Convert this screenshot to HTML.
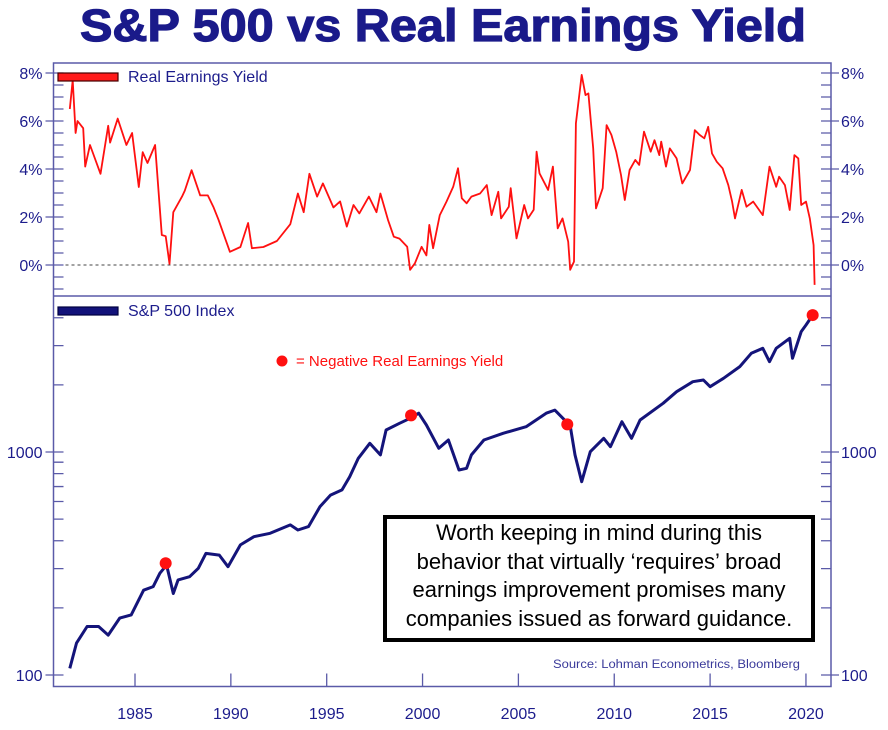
<!DOCTYPE html>
<html><head><meta charset="utf-8">
<style>
html,body{margin:0;padding:0;background:#fff;}
body{width:888px;height:730px;overflow:hidden;position:relative;font-family:"Liberation Sans",sans-serif;}
.box{position:absolute;left:383px;top:515px;width:424px;height:119px;border:4px solid #000;background:#fff;
font-size:22px;line-height:28.5px;text-align:center;color:#000;padding-top:0;}
.box div{white-space:nowrap;}
</style></head>
<body>
<svg id="chart" width="888" height="730" style="position:absolute;left:0;top:0" xmlns="http://www.w3.org/2000/svg">
  <text x="443" y="41" text-anchor="middle" font-family="Liberation Sans" font-weight="bold" font-size="45" fill="#1a1a8a" stroke="#1a1a8a" stroke-width="1.2" textLength="726" lengthAdjust="spacingAndGlyphs">S&amp;P 500 vs Real Earnings Yield</text>
  <g id="frame"></g>
  <g id="ticks"></g>
  <g id="series"></g>
  <g id="legend">
    <rect x="58" y="73" width="60" height="8" fill="#ff1a1a" stroke="#400" stroke-width="1.2"/>
    <text x="128" y="82" font-size="16" fill="#1c1c8c">Real Earnings Yield</text>
    <rect x="58" y="307" width="60" height="8" fill="#12127a" stroke="#000040" stroke-width="1.2"/>
    <text x="128" y="316" font-size="16" fill="#1c1c8c">S&amp;P 500 Index</text>
    <circle cx="282" cy="361" r="5.5" fill="#ff1010"/>
    <text x="296" y="366" font-size="15" fill="#ff1010">= Negative Real Earnings Yield</text>
    <text x="553" y="668" font-size="11.5" fill="#3a3a9a" textLength="247" lengthAdjust="spacingAndGlyphs">Source: Lohman Econometrics, Bloomberg</text>
  </g>
</svg>
<div class="box">
  <div>Worth keeping in mind during this</div>
  <div>behavior that virtually ‘requires’ broad</div>
  <div>earnings improvement promises many</div>
  <div>companies issued as forward guidance.</div>
</div>
<script>
// ---- data ----
const yieldYears = [1981.6,1981.75,1981.9,1982.0,1982.3,1982.4,1982.65,1983.2,1983.6,1983.7,1984.1,1984.55,1984.85,1985.2,1985.4,1985.65,1986.05,1986.4,1986.6,1986.8,1987.0,1987.45,1987.6,1987.95,1988.4,1988.8,1989.1,1989.35,1989.95,1990.5,1990.9,1991.1,1991.7,1992.4,1993.1,1993.5,1993.8,1994.1,1994.5,1994.8,1995.35,1995.7,1996.05,1996.4,1996.7,1997.2,1997.6,1997.8,1998.2,1998.5,1998.8,1999.2,1999.35,1999.6,1999.95,2000.2,2000.35,2000.55,2000.9,2001.25,2001.6,2001.85,2002.05,2002.3,2002.55,2003.0,2003.35,2003.6,2003.95,2004.1,2004.5,2004.6,2004.9,2005.3,2005.5,2005.8,2005.95,2006.1,2006.55,2006.8,2007.05,2007.3,2007.6,2007.7,2007.9,2008.0,2008.3,2008.5,2008.65,2008.9,2009.05,2009.4,2009.6,2009.85,2010.1,2010.35,2010.55,2010.8,2011.1,2011.3,2011.55,2011.9,2012.1,2012.35,2012.45,2012.7,2012.9,2013.25,2013.55,2013.95,2014.2,2014.45,2014.7,2014.9,2015.1,2015.35,2015.65,2015.95,2016.15,2016.3,2016.65,2016.9,2017.25,2017.75,2018.1,2018.45,2018.6,2018.9,2019.15,2019.4,2019.6,2019.75,2020.0,2020.2,2020.4,2020.45];
const yieldValues = [6.5,7.7,5.5,6.0,5.7,4.1,5.0,3.8,5.8,5.1,6.1,5.0,5.5,3.25,4.7,4.25,5.0,1.25,1.2,0.05,2.2,2.85,3.1,3.95,2.9,2.9,2.4,1.9,0.55,0.75,1.75,0.7,0.75,1.0,1.7,2.98,2.2,3.8,2.85,3.4,2.4,2.65,1.6,2.5,2.15,2.85,2.2,2.98,1.88,1.18,1.1,0.76,-0.2,0.07,0.76,0.4,1.67,0.7,2.08,2.64,3.26,4.03,2.78,2.57,2.85,2.98,3.33,2.08,3.05,1.94,2.43,3.2,1.11,2.5,1.94,2.3,4.72,3.82,3.13,4.1,1.53,1.94,0.97,-0.2,0.14,5.9,7.92,7.08,7.15,4.86,2.36,3.2,5.83,5.42,4.72,3.75,2.71,3.96,4.38,4.17,5.56,4.72,5.2,4.58,5.14,4.1,4.86,4.44,3.4,3.96,5.62,5.42,5.28,5.76,4.65,4.3,4.03,3.33,2.64,1.94,3.13,2.43,2.64,2.08,4.1,3.26,3.68,3.33,2.29,4.58,4.44,2.5,2.64,1.94,0.83,-0.83];
const spYears = [1981.6,1981.95,1982.5,1983.1,1983.6,1984.2,1984.8,1985.45,1985.95,1986.3,1986.65,1987.0,1987.25,1987.85,1988.3,1988.7,1989.4,1989.85,1990.5,1991.2,1992.05,1993.1,1993.5,1994.05,1994.65,1995.2,1995.8,1996.2,1996.65,1997.25,1997.8,1998.1,1998.8,1999.35,1999.8,2000.2,2000.85,2001.35,2001.9,2002.3,2002.55,2003.2,2004.2,2005.4,2006.45,2006.9,2007.7,2007.95,2008.3,2008.75,2009.45,2009.8,2010.4,2010.9,2011.35,2012.55,2013.25,2014.1,2014.65,2015.0,2015.7,2016.55,2017.15,2017.75,2018.1,2018.45,2019.15,2019.3,2019.75,2020.0,2020.35];
const spValues = [107,139,165,165,151,180,186,240,249,286,311,232,267,276,301,351,345,306,383,417,432,471,447,463,569,641,676,775,937,1094,970,1255,1345,1416,1492,1321,1039,1132,830,845,970,1132,1213,1298,1492,1542,1312,970,736,1003,1152,1056,1367,1152,1391,1653,1863,2066,2104,1963,2140,2414,2772,2917,2541,2917,3235,2630,3466,3713,4112];
const negYears = [1986.6,1999.4,2007.55,2020.35];
const negValues = [317,1460,1330,4112];
const xTickYears = [1985,1990,1995,2000,2005,2010,2015,2020];
const yieldTickLabels = ["0%","2%","4%","6%","8%"];
const yieldTickValues = [0,2,4,6,8];
const spTickValues = [100,1000];
const spTickLabels = ["100","1000"];
const spMinorValues = [200,300,400,500,600,700,800,900,2000,3000,4000];

// ---- scales ----
const X = y => 135 + (y - 1985) * 19.17;
const YY = v => 265 - v * 24;
const YS = v => 452 - 223 * Math.log10(v / 1000);
const L = 53.5, R = 831, T = 63, MID = 296, B = 686.5;
const AX = "#5a5aa8";
const NS = "http://www.w3.org/2000/svg";
function mk(parent, tag, attrs){const e=document.createElementNS(NS,tag);for(const k in attrs)e.setAttribute(k,attrs[k]);parent.appendChild(e);return e;}
const frame = document.getElementById('frame');
const ticks = document.getElementById('ticks');
const series = document.getElementById('series');

let el;
el = mk(frame,'path',{d:`M${L},${T}H${R}V${B}H${L}Z M${L},${MID}H${R}`,fill:'none',stroke:AX,'stroke-width':1.5});


el = mk(frame,'line',{x1:L,x2:R,y1:YY(0),y2:YY(0),stroke:'#444','stroke-width':1,'stroke-dasharray':'3,3'});



for (let v = -1; v <= 8; v += 0.5) {
  const y = YY(v), major = Number.isInteger(v/2) && v>=0;
  el = mk(ticks,'path',{d:`M${major?L-8:L},${y}H${L+10} M${R-10},${y}H${major?R+8:R}`,stroke:AX,'stroke-width':1.3});
  
  
}
yieldTickValues.forEach((v,i)=>{
  el = mk(ticks,'text',{x:L-11,y:YY(v)+6,'text-anchor':'end','font-size':16,fill:'#1c1c8c'});
  el.textContent = yieldTickLabels[i];
  
  
  el = mk(ticks,'text',{x:R+10,y:YY(v)+6,'font-size':16,fill:'#1c1c8c'});
  el.textContent = yieldTickLabels[i];
  
  
});
spMinorValues.forEach(v=>{
  const y = YS(v);
  el = mk(ticks,'path',{d:`M${L},${y}H${L+10} M${R-10},${y}H${R}`,stroke:AX,'stroke-width':1.3});
  
  
});
spTickValues.forEach((v,i)=>{
  const y = YS(v);
  el = mk(ticks,'path',{d:`M${L-8},${y}H${L+10} M${R-10},${y}H${R+8}`,stroke:AX,'stroke-width':1.3});
  
  
  el = mk(ticks,'text',{x:L-11,y:y+6,'text-anchor':'end','font-size':16,fill:'#1c1c8c'});
  el.textContent = spTickLabels[i];
  
  
  el = mk(ticks,'text',{x:R+10,y:y+6,'font-size':16,fill:'#1c1c8c'});
  el.textContent = spTickLabels[i];
  
  
});
xTickYears.forEach(yr=>{
  const x = X(yr);
  el = mk(ticks,'line',{x1:x,x2:x,y1:B,y2:B-13,stroke:AX,'stroke-width':1.3});
  
  
  el = mk(ticks,'text',{x:x,y:719,'text-anchor':'middle','font-size':16,fill:'#1c1c8c'});
  el.textContent = String(yr);
  
  
});

el = mk(series,'path',{d:yieldYears.map((yr,i)=>(i?'L':'M')+X(yr).toFixed(1)+','+YY(yieldValues[i]).toFixed(1)).join(''),fill:'none',stroke:'#ff1010','stroke-width':1.8,'stroke-linejoin':'round'});


el = mk(series,'path',{d:spYears.map((yr,i)=>(i?'L':'M')+X(yr).toFixed(1)+','+YS(spValues[i]).toFixed(1)).join(''),fill:'none',stroke:'#14147a','stroke-width':3,'stroke-linejoin':'round'});


negYears.forEach((yr,i)=>{
  el = mk(series,'circle',{cx:X(yr),cy:YS(negValues[i]),r:6,fill:'#ff1010'});
  
  
});
</script>
</body></html>
